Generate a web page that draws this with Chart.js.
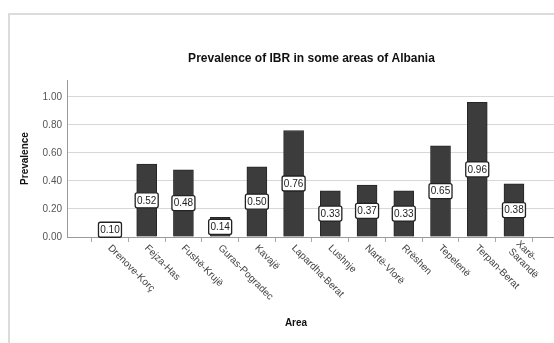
<!DOCTYPE html>
<html lang="en">
<head>
  <meta charset="UTF-8" />
  <title>Prevalence of IBR in some areas of Albania</title>
  <script src="https://cdn.jsdelivr.net/npm/chart.js"></script>
  <style>
    body { margin: 0; background: #fff; }
    #chart { display: block; }
  </style>
</head>
<body>
  <canvas id="chart" width="554" height="343"></canvas>
  <script>
    // data
    const areas = ['Drenove-Korç', 'Fejza-Has', 'Fushë-Krujë', 'Guras-Pogradec', 'Kavajë', 'Lapardha-Berat',
      'Lushnje', 'Nartë-Vlorë', 'Rrëshen', 'Tepelenë', 'Terpan-Berat', ['Xarë-', 'Sarandë']];
    const prevalence = [0.10, 0.52, 0.48, 0.14, 0.50, 0.76, 0.33, 0.37, 0.33, 0.65, 0.96, 0.38];
    const yTicks = [0, 0.2, 0.4, 0.6, 0.8, 1.0];

    const FONT = '"Liberation Sans", Arial, sans-serif';

    // frame, title, axis titles, slanted area labels, value boxes
    const decorations = {
      id: 'decorations',
      beforeDraw(chart) {
        const ctx = chart.ctx;
        ctx.save();
        ctx.strokeStyle = '#dcdcdc';
        ctx.lineWidth = 2;
        ctx.beginPath();
        ctx.moveTo(9, 343);
        ctx.lineTo(9, 14);
        ctx.lineTo(554, 14);
        ctx.stroke();
        ctx.restore();
      },
      afterDraw(chart) {
        const ctx = chart.ctx;
        const area = chart.chartArea;
        const xs = chart.scales.x;
        ctx.save();
        ctx.fillStyle = '#111';
        ctx.font = 'bold 12px ' + FONT;
        ctx.textAlign = 'center';
        ctx.textBaseline = 'middle';
        ctx.fillText('Prevalence of IBR in some areas of Albania', (area.left + area.right) / 2 + 1, 59);

        ctx.font = 'bold 10px ' + FONT;
        ctx.fillText('Area', 296, 323);
        ctx.save();
        ctx.translate(25, (area.top + area.bottom) / 2);
        ctx.rotate(-Math.PI / 2);
        ctx.fillText('Prevalence', 0, 0);
        ctx.restore();

        // rotated category labels
        ctx.font = '10px ' + FONT;
        ctx.fillStyle = '#444';
        ctx.textAlign = 'left';
        ctx.textBaseline = 'top';
        areas.forEach((lab, i) => {
          const lines = Array.isArray(lab) ? lab : [lab];
          const x = xs.getPixelForValue(i);
          ctx.save();
          ctx.translate(x + 3, area.bottom + 6);
          ctx.rotate(Math.PI / 4);
          const off = (lines.length - 1) * 6;
          lines.forEach((ln, k) => ctx.fillText(ln, 0, k * 11 - off));
          ctx.restore();
        });

        // value boxes in the middle of each bar
        const meta = chart.getDatasetMeta(0);
        ctx.font = '10px ' + FONT;
        ctx.textAlign = 'center';
        ctx.textBaseline = 'middle';
        meta.data.forEach((bar, i) => {
          const cy = (bar.y + bar.base) / 2;
          const w = 23, h = 15;
          ctx.beginPath();
          ctx.roundRect(bar.x - w / 2, cy - h / 2, w, h, 2);
          ctx.fillStyle = '#fff';
          ctx.fill();
          ctx.lineWidth = 1.3;
          ctx.strokeStyle = '#222';
          ctx.stroke();
          ctx.fillStyle = '#222';
          ctx.fillText(prevalence[i].toFixed(2), bar.x, cy + 0.5);
        });
        ctx.restore();
      }
    };

    new Chart(document.getElementById('chart').getContext('2d'), {
      type: 'bar',
      data: {
        datasets: [{
          data: prevalence.map((v, i) => ({ x: i, y: v })),
          backgroundColor: '#3c3c3c',
          borderColor: '#262626',
          borderWidth: 1,
          barThickness: 20
        }]
      },
      options: {
        responsive: false,
        animation: false,
        events: [],
        layout: { padding: { top: 80, left: 0, right: 0, bottom: 0 } },
        plugins: { legend: { display: false }, title: { display: false }, tooltip: { enabled: false } },
        scales: {
          x: {
            type: 'linear',
            min: -1.17,
            max: 12.09,
            offset: false,
            afterBuildTicks: s => { s.ticks = areas.map((_, i) => ({ value: i })); },
            afterFit: s => { s.height = 106; },
            ticks: { autoSkip: false, maxRotation: 0, callback: () => '' },
            grid: { drawOnChartArea: false, tickLength: 5, color: '#a8a8a8' },
            border: { color: '#9a9a9a' }
          },
          y: {
            min: 0,
            max: 1.12,
            afterBuildTicks: s => { s.ticks = yTicks.map(v => ({ value: v })); },
            afterFit: s => { s.width = 67; },
            ticks: {
              padding: 5,
              color: '#555',
              font: { family: FONT, size: 10 },
              callback: v => Number(v).toFixed(2)
            },
            grid: { drawTicks: false, color: '#d8d8d8' },
            border: { color: '#9a9a9a' }
          }
        }
      },
      plugins: [decorations]
    });
  </script>
</body>
</html>
